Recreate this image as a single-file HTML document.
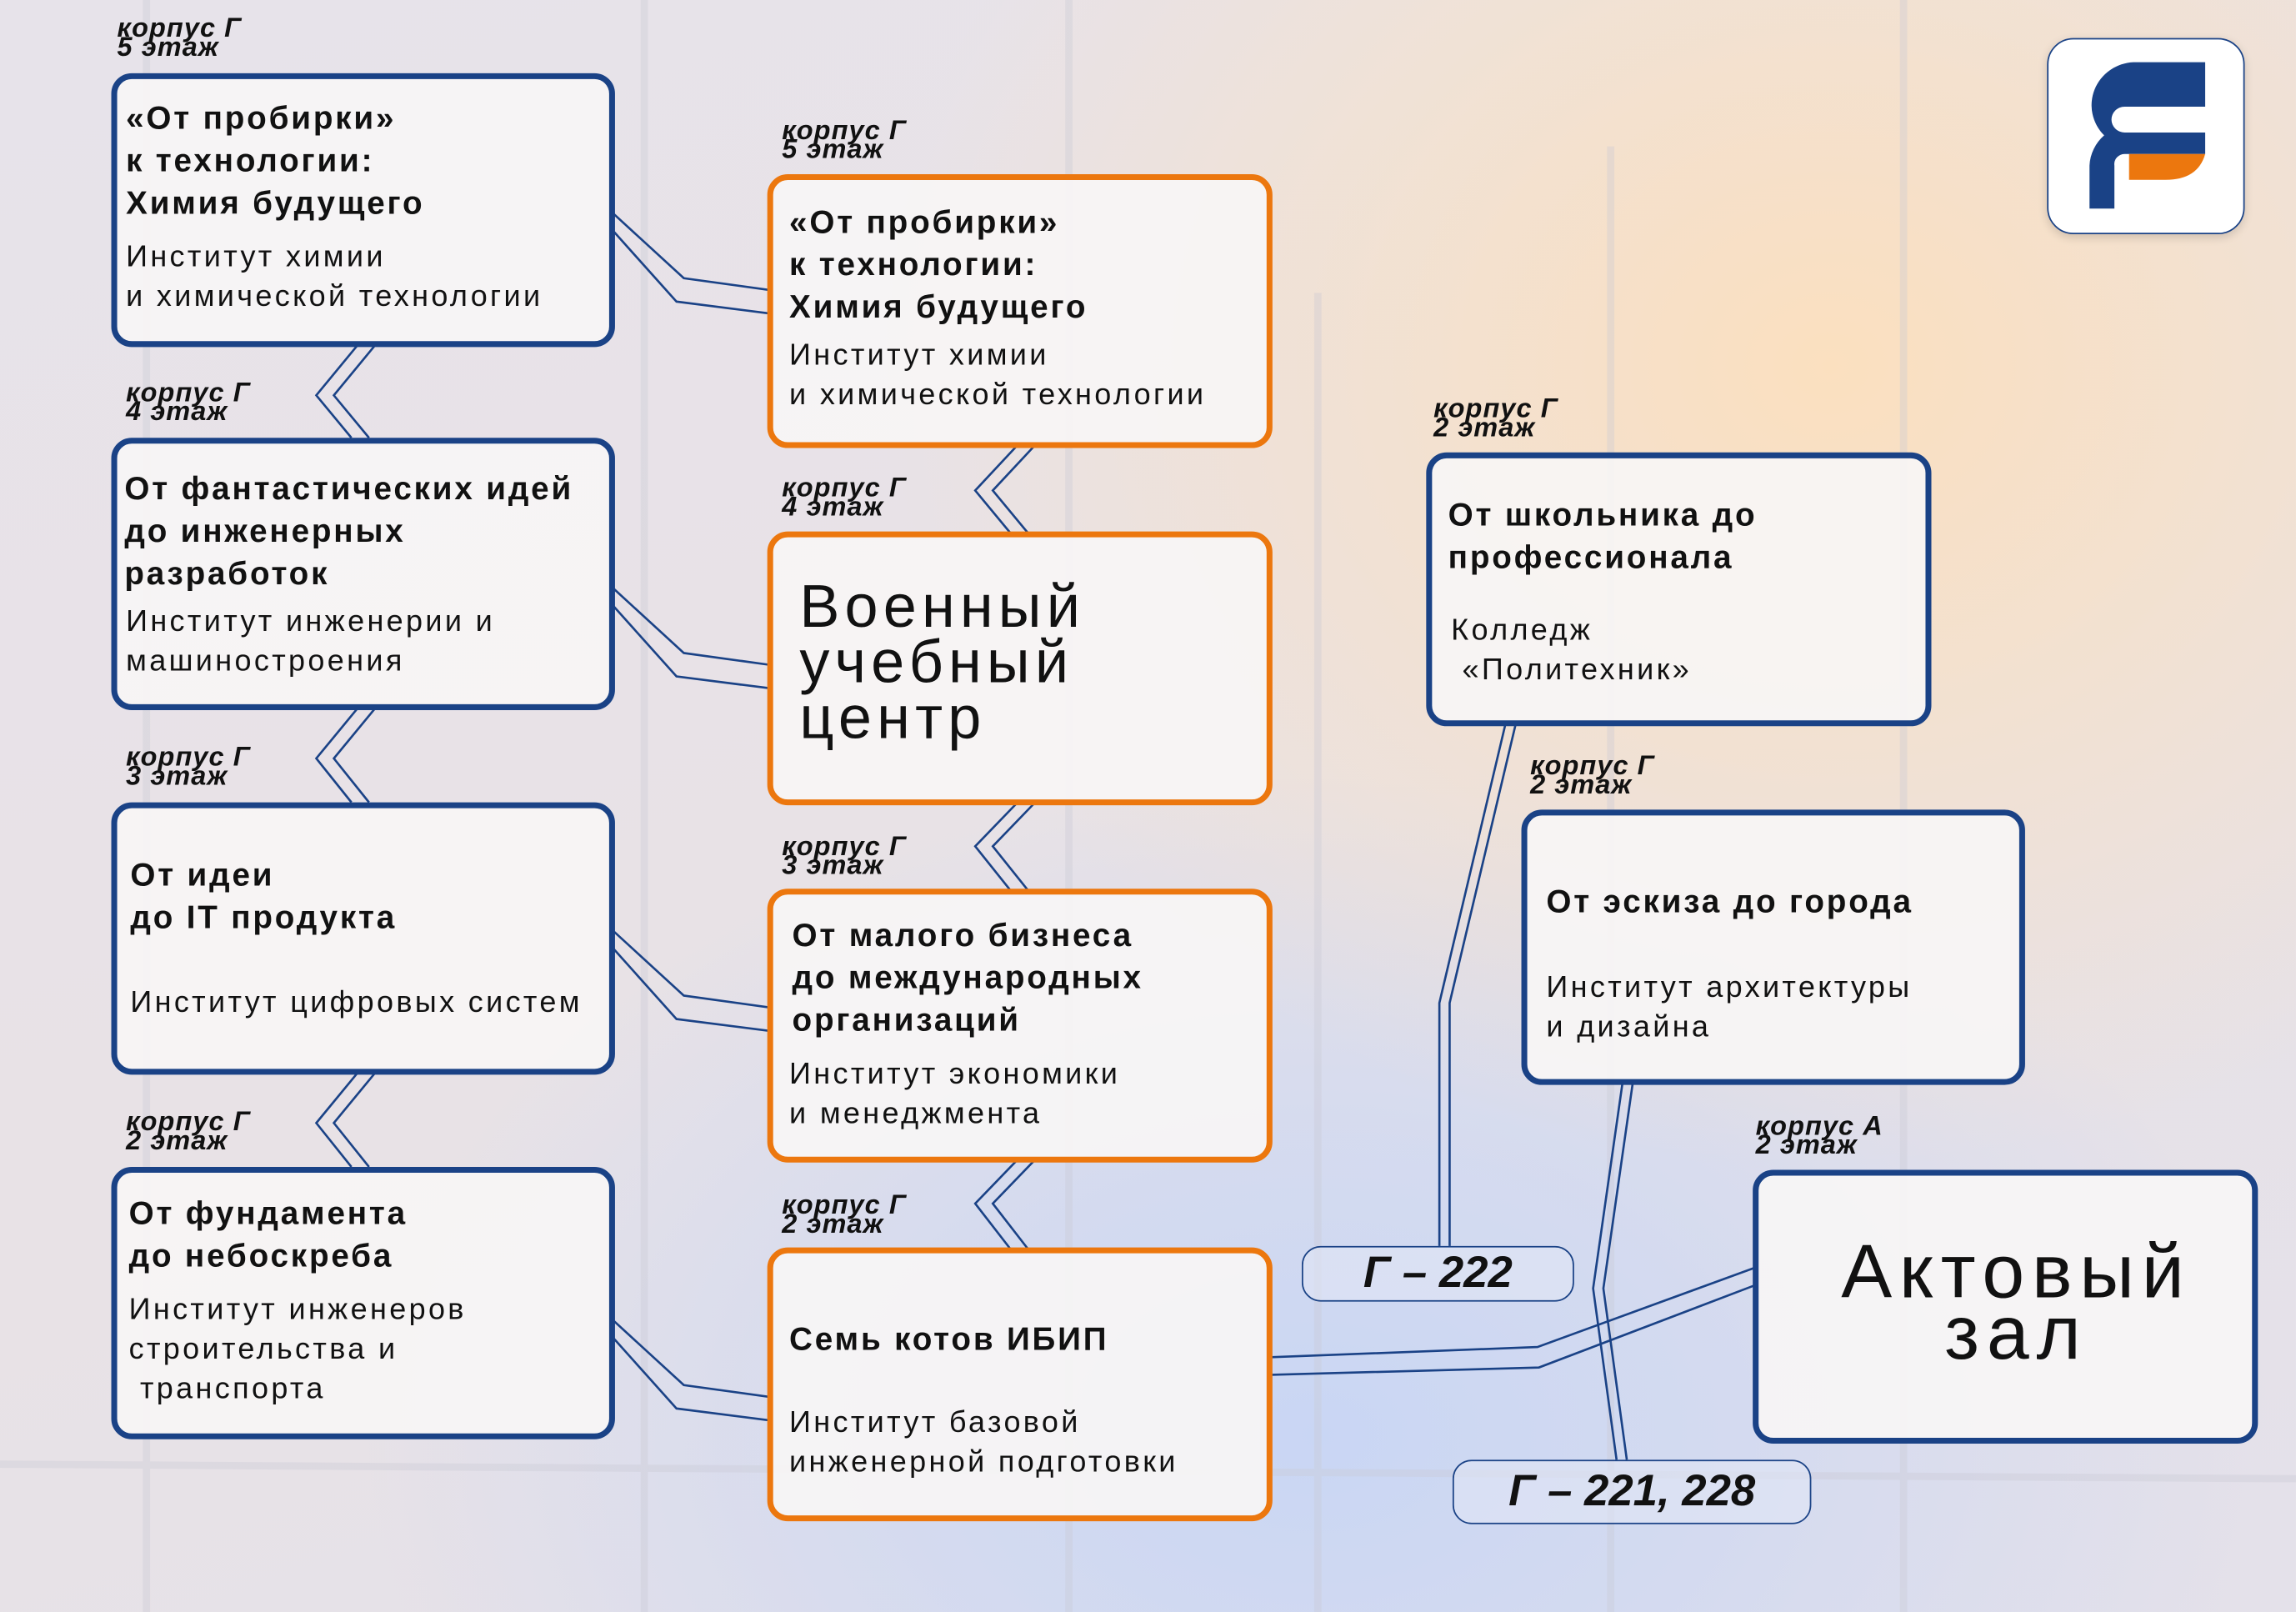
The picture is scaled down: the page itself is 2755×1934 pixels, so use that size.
<!DOCTYPE html>
<html><head><meta charset="utf-8"><style>
*{margin:0;padding:0;box-sizing:border-box}
html,body{width:2755px;height:1934px;overflow:hidden}
#s{width:1568px;height:1101px;transform:scale(1.757,1.7566);transform-origin:0 0;position:relative;
background:radial-gradient(ellipse 650px 550px at 1250px 250px,#fbe0bf 0%,rgba(251,224,191,.6) 40%,rgba(251,224,191,0) 100%),radial-gradient(ellipse 650px 450px at 900px 980px,#c9d6f4 0%,rgba(201,214,244,.6) 45%,rgba(201,214,244,0) 100%),linear-gradient(160deg,#e7e3ea 0%,#e8e2e6 50%,#e4e1ea 100%);font-family:"Liberation Sans",sans-serif;color:#111}
.b{position:absolute;border:4px solid #1a4286;border-radius:14px;background:rgba(247,245,245,.92)}
.o{border-color:#ec770e}
.t{position:absolute;font-weight:bold;font-size:22px;line-height:29px;letter-spacing:1.6px}
.d{position:absolute;font-size:20.5px;line-height:27px;letter-spacing:1.9px}
.k{position:absolute;font-style:italic;font-weight:bold;font-size:18.5px;line-height:13px;letter-spacing:.6px}
.p{position:absolute;border:1.5px solid #1a4286;border-radius:13px;background:rgba(225,230,245,.6);font-style:italic;font-weight:bold;font-size:30px;text-align:center}
svg{position:absolute;left:0;top:0}
</style></head><body><div id="s">
<svg width="1568" height="1101">
<g stroke="#c9c9d4" stroke-width="5" opacity=".35" fill="none">
<line x1="100" y1="0" x2="100" y2="1101"/><line x1="440" y1="0" x2="440" y2="1101"/><line x1="730" y1="0" x2="730" y2="1101"/>
<line x1="0" y1="1000" x2="1568" y2="1010"/><line x1="1300" y1="0" x2="1300" y2="1101"/><line x1="900" y1="200" x2="900" y2="1101"/>
<line x1="1100" y1="100" x2="1100" y2="1101"/>
</g>
<g stroke="#1a4286" stroke-width="1.5" fill="none">
<polyline points="419,146 467,190 525,198"/><polyline points="419,158 462,206 525,214"/>
<polyline points="419,402 467,446 525,454"/><polyline points="419,414 462,462 525,470"/>
<polyline points="419,636 467,680 525,688"/><polyline points="419,648 462,696 525,704"/>
<polyline points="419,902 467,946 525,954"/><polyline points="419,914 462,962 525,970"/>
<polyline points="244,236 216,270 240,299"/><polyline points="256,236 228,270 252,299"/>
<polyline points="244,484 216,518 240,548"/><polyline points="256,484 228,518 252,548"/>
<polyline points="244,733 216,767 240,797"/><polyline points="256,733 228,767 252,797"/>
<polyline points="694,305 666,335 690,364"/><polyline points="706,305 678,335 702,364"/>
<polyline points="694,549 666,578 690,608"/><polyline points="706,549 678,578 702,608"/>
<polyline points="694,793 666,822 690,853"/><polyline points="706,793 678,822 702,853"/>
<polyline points="868,927 1050,920 1198,866"/><polyline points="868,939 1051,934 1198,878"/>
<polyline points="1028,495 983,685 983,851"/><polyline points="1035,495 990,685 990,851"/>
<polyline points="1108,740 1088,880 1104,997"/><polyline points="1115,740 1095,880 1111,997"/>
</g>
</svg>
<div class="k" style="left:80px;top:12px">корпус Г<br>5 этаж</div>
<div class="b" style="left:76px;top:50px;width:344px;height:187px"></div>
<div class="t" style="left:86px;top:66px">«От пробирки»<br>к технологии:<br>Химия будущего</div>
<div class="d" style="left:86px;top:162px">Институт химии<br>и химической технологии</div>

<div class="k" style="left:86px;top:261px">корпус Г<br>4 этаж</div>
<div class="b" style="left:76px;top:299px;width:344px;height:186px"></div>
<div class="t" style="left:85px;top:319px">От фантастических идей<br>до инженерных<br>разработок</div>
<div class="d" style="left:86px;top:411px">Институт инженерии и<br>машиностроения</div>

<div class="k" style="left:86px;top:510px">корпус Г<br>3 этаж</div>
<div class="b" style="left:76px;top:548px;width:344px;height:186px"></div>
<div class="t" style="left:89px;top:583px">От идеи<br>до IT продукта</div>
<div class="d" style="left:89px;top:671px">Институт цифровых систем</div>

<div class="k" style="left:86px;top:759px">корпус Г<br>2 этаж</div>
<div class="b" style="left:76px;top:797px;width:344px;height:186px"></div>
<div class="t" style="left:88px;top:814px">От фундамента<br>до небоскреба</div>
<div class="d" style="left:88px;top:881px">Институт инженеров<br>строительства и<br>&nbsp;транспорта</div>

<div class="k" style="left:534px;top:82px">корпус Г<br>5 этаж</div>
<div class="b o" style="left:524px;top:119px;width:345px;height:187px"></div>
<div class="t" style="left:539px;top:137px">«От пробирки»<br>к технологии:<br>Химия будущего</div>
<div class="d" style="left:539px;top:229px">Институт химии<br>и химической технологии</div>

<div class="k" style="left:534px;top:326px">корпус Г<br>4 этаж</div>
<div class="b o" style="left:524px;top:363px;width:345px;height:187px"></div>
<div style="position:absolute;left:546px;top:395px;font-size:41px;line-height:38px;letter-spacing:3.5px">Военный<br>учебный<br>центр</div>

<div class="k" style="left:534px;top:571px">корпус Г<br>3 этаж</div>
<div class="b o" style="left:524px;top:607px;width:345px;height:187px"></div>
<div class="t" style="left:541px;top:624px">От малого бизнеса<br>до международных<br>организаций</div>
<div class="d" style="left:539px;top:720px">Институт экономики<br>и менеджмента</div>

<div class="k" style="left:534px;top:816px">корпус Г<br>2 этаж</div>
<div class="b o" style="left:524px;top:852px;width:345px;height:187px"></div>
<div class="t" style="left:539px;top:900px">Семь котов ИБИП</div>
<div class="d" style="left:539px;top:958px">Институт базовой<br>инженерной подготовки</div>

<div class="k" style="left:979px;top:272px">корпус Г<br>2 этаж</div>
<div class="b" style="left:974px;top:309px;width:345px;height:187px"></div>
<div class="t" style="left:989px;top:337px">От школьника до<br>профессионала</div>
<div class="d" style="left:991px;top:417px">Колледж<br>&nbsp;«Политехник»</div>

<div class="k" style="left:1045px;top:516px">корпус Г<br>2 этаж</div>
<div class="b" style="left:1039px;top:553px;width:344px;height:188px"></div>
<div class="t" style="left:1056px;top:601px">От эскиза до города</div>
<div class="d" style="left:1056px;top:661px">Институт архитектуры<br>и дизайна</div>

<div class="k" style="left:1199px;top:762px">корпус А<br>2 этаж</div>
<div class="b" style="left:1197px;top:799px;width:345px;height:187px"></div>
<div style="position:absolute;left:1197px;top:848px;width:360px;text-align:center;font-size:52px;line-height:42px;letter-spacing:5px">Актовый<br>зал</div>

<div class="p" style="left:889px;top:851px;width:186px;height:38px;line-height:36px">Г – 222</div>
<div class="p" style="left:992px;top:997px;width:245px;height:44px;line-height:42px">Г – 221, 228</div>

<div style="position:absolute;left:1398px;top:26px;width:135px;height:134px;background:#fff;border:1.5px solid #1a4286;border-radius:18px;box-shadow:0 2px 6px rgba(0,0,0,.15)">
<svg width="135" height="134" viewBox="0 0 135 134" style="position:static">
<path d="M107 42 V26 H58 A30 30 0 0 0 38 77 A30 30 0 0 0 28 98 V128 H45 V98 A7 7 0 0 1 52 90 H107 V75 H52 A8 8 0 0 1 52 57 H107 Z" transform="translate(0,-10) scale(1,0.98)" fill="#1a4286"/>
<path d="M55 90 H107 Q102 108 80 108 H55 Z" transform="translate(0,-10) scale(1,0.98)" fill="#ec770e"/>
</svg></div>
</div></body></html>
